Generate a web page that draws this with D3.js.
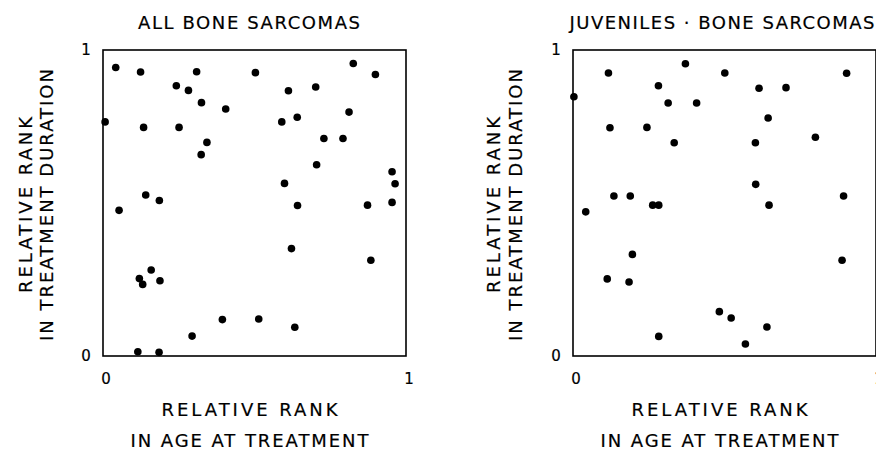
<!DOCTYPE html>
<html>
<head>
<meta charset="utf-8">
<script src="https://cdn.jsdelivr.net/npm/d3@7"></script>
<style>
  body { margin: 0; background: #fff; }
  text { font-family: "DejaVu Sans", sans-serif; fill: #000; stroke: #000; stroke-width: 0.2px; }
</style>
</head>
<body>
<div id="chart"></div>
<script>
// panel titles and axis labels
var titles = ["ALL BONE SARCOMAS", "JUVENILES \u00b7 BONE SARCOMAS"];
var xLabels = ["RELATIVE RANK", "IN AGE AT TREATMENT"];
var yLabels = ["RELATIVE RANK", "IN TREATMENT DURATION"];
var tickValues = [0, 1];

// all bone sarcomas: [age rank, duration rank]
var allAge = [0.042, 0.124, 0.309, 0.503, 0.826, 0.899, 0.242, 0.282, 0.612, 0.702,
  0.325, 0.405, 0.812, 0.007, 0.134, 0.251, 0.590, 0.641, 0.343, 0.324,
  0.729, 0.792, 0.705, 0.954, 0.964, 0.599, 0.141, 0.186, 0.053, 0.642,
  0.873, 0.954, 0.622, 0.884, 0.159, 0.120, 0.131, 0.188, 0.394, 0.514,
  0.633, 0.294, 0.115, 0.185];
var allDur = [0.943, 0.928, 0.929, 0.926, 0.956, 0.920, 0.883, 0.868, 0.867, 0.879,
  0.828, 0.807, 0.797, 0.765, 0.747, 0.747, 0.765, 0.780, 0.698, 0.658,
  0.711, 0.711, 0.625, 0.602, 0.563, 0.564, 0.526, 0.508, 0.476, 0.492,
  0.493, 0.502, 0.351, 0.313, 0.281, 0.253, 0.234, 0.246, 0.119, 0.121,
  0.094, 0.065, 0.014, 0.012];

// juveniles
var juvAge = [0.003, 0.117, 0.371, 0.501, 0.903, 0.282, 0.614, 0.703, 0.314, 0.408,
  0.122, 0.244, 0.644, 0.334, 0.602, 0.800, 0.603, 0.135, 0.189, 0.263,
  0.283, 0.647, 0.042, 0.893, 0.196, 0.113, 0.185, 0.888, 0.483, 0.522,
  0.640, 0.283, 0.569];
var juvDur = [0.847, 0.925, 0.955, 0.925, 0.924, 0.883, 0.875, 0.877, 0.827, 0.827,
  0.746, 0.747, 0.778, 0.697, 0.697, 0.715, 0.561, 0.523, 0.523, 0.493,
  0.493, 0.493, 0.471, 0.523, 0.332, 0.252, 0.242, 0.313, 0.145, 0.124,
  0.095, 0.064, 0.039];

var svg = d3.select("#chart").append("svg")
  .attr("width", 876)
  .attr("height", 451);

var size = 303;
var panels = [
  { left: 103, top: 50, title: titles[0], tl: 222, tx: 146, xs: allAge, ys: allDur, yoff: [-71, -50] },
  { left: 573, top: 50, title: titles[1], tl: 305, tx: 149, xs: juvAge, ys: juvDur, yoff: [-73, -51] }
];

panels.forEach(function(p, i) {
  var x = d3.scaleLinear().domain([0, 1]).range([0, size]);
  var y = d3.scaleLinear().domain([0, 1]).range([306, 0]);
  var g = svg.append("g").attr("transform", `translate(${p.left}, ${p.top})`);

  g.append("rect")
    .attr("x", 0).attr("y", 0)
    .attr("width", size).attr("height", 306)
    .attr("fill", "none")
    .attr("stroke", "#000")
    .attr("stroke-width", 1.6);

  var pts = p.xs.map((v, k) => [v, p.ys[k]]);
  g.selectAll("circle").data(pts).enter()
    .append("circle")
    .attr("cx", d => x(d[0]))
    .attr("cy", d => y(d[1]))
    .attr("r", 3.8)
    .attr("fill", "#000");

  // tick labels 0 / 1
  g.selectAll(".xt").data(tickValues).enter()
    .append("text")
    .attr("x", d => x(d) + 3)
    .attr("y", 334)
    .attr("text-anchor", "middle")
    .attr("font-size", 15)
    .text(d => d);

  g.selectAll(".yt").data(tickValues).enter()
    .append("text")
    .attr("x", -17)
    .attr("y", d => y(d) + 5)
    .attr("text-anchor", "middle")
    .attr("font-size", 15)
    .text(d => d);

  var cx = size / 2 - 5;
  g.append("text")
    .attr("x", p.tx).attr("y", -21)
    .attr("text-anchor", "middle")
    .attr("font-size", 18)
    .attr("textLength", p.tl)
    .attr("lengthAdjust", "spacing")
    .text(p.title);

  g.append("text")
    .attr("x", cx).attr("y", 366)
    .attr("text-anchor", "middle")
    .attr("font-size", 18)
    .attr("textLength", 176)
    .attr("lengthAdjust", "spacing")
    .text(xLabels[0]);

  g.append("text")
    .attr("x", cx).attr("y", 397)
    .attr("text-anchor", "middle")
    .attr("font-size", 18)
    .attr("textLength", 238)
    .attr("lengthAdjust", "spacing")
    .text(xLabels[1]);

  g.append("text")
    .attr("transform", `translate(${p.yoff[0]}, 155) rotate(-90)`)
    .attr("text-anchor", "middle")
    .attr("font-size", 18)
    .attr("textLength", 176)
    .attr("lengthAdjust", "spacing")
    .text(yLabels[0]);

  g.append("text")
    .attr("transform", `translate(${p.yoff[1]}, 155) rotate(-90)`)
    .attr("text-anchor", "middle")
    .attr("font-size", 18)
    .attr("textLength", 272)
    .attr("lengthAdjust", "spacing")
    .text(yLabels[1]);
});
</script>
</body>
</html>
